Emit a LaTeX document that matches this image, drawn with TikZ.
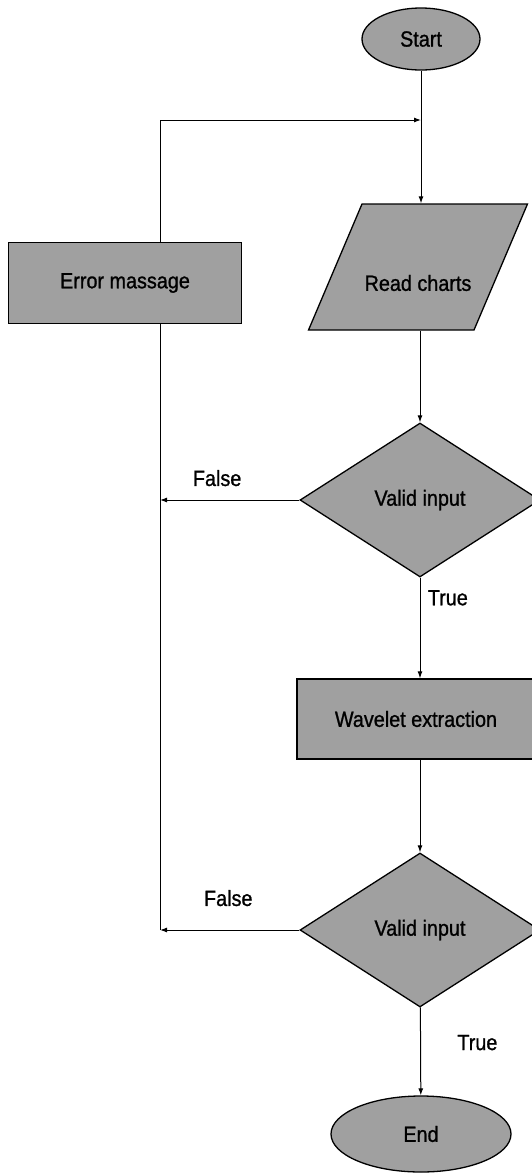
\documentclass[tikz,border=0pt]{standalone}
\usepackage{fontspec}
\setmainfont{Liberation Sans}[FakeStretch=0.9,FakeBold=1]
\usepackage{tikz}
\usetikzlibrary{arrows.meta,positioning,shapes.geometric}
\definecolor{boxgray}{RGB}{160,160,160}

\begin{document}
\begin{tikzpicture}[x=1pt,y=-1pt,
    every node/.style={font=\fontsize{22}{26}\selectfont},
    block/.style={draw,line width=1.3pt,fill=boxgray,inner sep=0pt},
    flow/.style={line width=1pt,-{Latex[length=7pt,width=5pt]}},
    wire/.style={line width=1pt}]
  \useasboundingbox (0,0) rectangle (531,1173);
  % main column
  \node[block,ellipse,minimum width=118,minimum height=62] (start) at (421,39) {Start};
  \node[block,trapezium,trapezium left angle=67,trapezium right angle=113,
        inner xsep=1pt,inner ysep=11pt,text width=110pt,
        text height=52pt,text depth=52pt] (read) at (418,267) {};
  \node (readlbl) at ([yshift=-16pt]read.center) {Read charts};
  \node[block,diamond,minimum width=240,minimum height=154] (valid1) at (420,500) {Valid input};
  \node[block,minimum width=238,minimum height=80] (wave) at (416,719) {Wavelet extraction};
  \node[block,diamond,minimum width=240,minimum height=154] (valid2) at (420,930) {Valid input};
  \node[block,ellipse,minimum width=180,minimum height=76] (end) at (421,1134) {End};
  % error branch on the left
  \node[block,minimum width=233,minimum height=81] (err) at (125,283) {Error massage};
  \coordinate (top) at (160,120);
  \coordinate (join) at (start |- top);

  \draw[flow] (start) -- (join |- read.north);
  \draw[flow] (read.south -| valid1) -- (valid1);
  \draw[flow] (valid1) -- node[right=4pt,pos=0.2] {True} (wave.north -| valid1);
  \draw[flow] (wave.south -| valid2) -- (valid2);
  \draw[flow] (valid2) -- node[right=33pt,pos=0.4] {True} (end);

  \draw[flow] (err.north -| top) -- (top) -- (join);
  \draw[wire] (err.south -| top) -- (valid2.west -| top);
  \draw[flow] (valid1.west) -- node[above=10pt,pos=0.59] {False} (valid1.west -| top);
  \draw[flow] (valid2.west) -- node[above=20pt,pos=0.51] {False} (valid2.west -| top);
\end{tikzpicture}
\end{document}
